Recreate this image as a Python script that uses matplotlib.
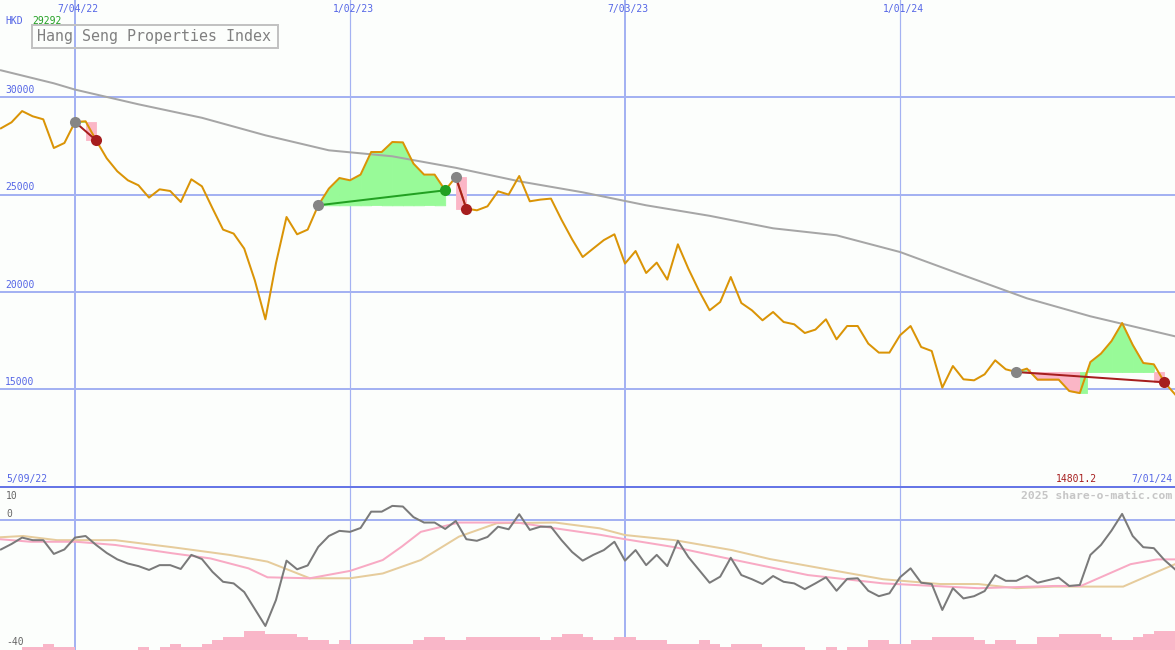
import matplotlib
matplotlib.use('Agg')
import matplotlib.pyplot as plt
import numpy as np

plt.rcParams['font.family'] = 'DejaVu Sans Mono'

# weekly closes, 16 May 2022 .. 1 Jul 2024 (week 0 = 4 Jul 2022)
weeks = list(range(-7, 105))
price = [28407, 28715, 29292, 29024, 28869, 27395, 27652, 28731, 28767, 27790,
         26865, 26197, 25735, 25478, 24846, 25272, 25185, 24620, 25786, 25426,
         24296, 23201, 22996, 22225, 20596, 18591, 21469, 23849, 22960, 23201,
         24450, 25308, 25853, 25735, 26028, 27189, 27189, 27703, 27684, 26593,
         26028, 26028, 25221, 25904, 24280, 24193, 24398, 25169, 25000, 25956,
         24655, 24743, 24794, 23705, 22703, 21793, 22230, 22662, 22960, 21454,
         22101, 20971, 21505, 20632, 22446, 21181, 20056, 19054, 19480, 20765,
         19429, 19054, 18540, 18967, 18453, 18335, 17887, 18062, 18592, 17564,
         18247, 18247, 17343, 16880, 16880, 17769, 18247, 17168, 16962, 15081,
         16191, 15508, 15456, 15765, 16484, 16022, 15883, 16058, 15493, 15493,
         15493, 14907, 14801, 16397, 16828, 17476, 18401, 17280, 16346, 16279,
         15354, 14737]

# long moving average (read at a few weeks)
ma_wk = [-7, -2, 0, 6, 12, 18, 24, 30, 36, 42, 48, 54, 60, 66, 72, 78, 84, 90, 96, 102, 104]
ma_val = [31387, 30719, 30396, 29640, 28947, 28047, 27276, 26968, 26377, 25683, 25118,
          24450, 23910, 23268, 22908, 22050, 20853, 19670, 18746, 17975, 17718]

# trades: entry week, exit week
entries = [0, 23, 36, 89]
exits = [2, 35, 37, 103]

# lower panel
momentum = [-9.2, -7.5, -5.5, -6.3, -6.3, -10.6, -9.2, -5.5, -5.0, -7.8,
            -10.3, -12.3, -13.6, -14.4, -15.6, -14.1, -14.1, -15.3, -10.9, -12.2,
            -16.2, -19.3, -19.8, -22.5, -27.8, -33.1, -25.0, -12.7, -15.4, -14.2,
            -8.4, -5.0, -3.4, -3.7, -2.5, 2.6, 2.6, 4.4, 4.2, 0.9,
            -0.8, -0.8, -2.8, -0.3, -6.0, -6.5, -5.3, -2.1, -2.9, 1.8,
            -3.1, -2.1, -2.1, -6.3, -10.0, -12.7, -10.9, -9.4, -6.8, -12.7,
            -9.4, -14.1, -10.9, -14.4, -6.5, -11.6, -15.6, -19.6, -17.7, -11.8,
            -17.2, -18.5, -20.0, -17.5, -19.3, -19.8, -21.6, -19.8, -17.9, -22.1,
            -18.4, -18.2, -22.1, -23.8, -22.9, -17.9, -15.1, -19.6, -20.0, -28.1,
            -21.3, -24.5, -23.8, -22.2, -17.2, -19.0, -19.0, -17.4, -19.6, -18.8,
            -18.0, -20.6, -20.3, -10.9, -7.8, -3.3, 1.9, -5.0, -8.5, -8.8,
            -12.5, -15.4]

pink_wk = [-7.1, -4.2, 0.1, 3.8, 9.2, 12.8, 16.4, 18.2, 22.2, 26.0, 29.1, 30.9, 32.7,
           36.3, 41.8, 45.4, 49.6, 52.0, 56.7, 62.1, 69.3, 76.4, 85.4, 92.6, 95.1,
           99.8, 102.3, 104]
pink_val = [-6.0, -6.8, -6.8, -7.8, -10.4, -12.0, -15.1, -17.9, -18.2, -15.9, -12.5,
            -8.3, -3.7, -0.8, -0.8, -2.6, -4.6, -6.0, -8.5, -12.3, -17.2, -19.8,
            -21.3, -20.6, -20.6, -13.8, -12.3, -12.3]

tan_wk = [-7.1, -4.9, -1.7, 3.8, 9.2, 14.6, 18.2, 22.2, 26.0, 29.1, 32.7, 36.3, 39.9,
          45.4, 49.6, 52.0, 56.7, 62.1, 65.7, 71.1, 76.4, 81.8, 85.4, 89.0, 92.6,
          99.1, 101.6, 104]
tan_val = [-5.4, -5.0, -6.3, -6.3, -8.5, -10.9, -13.0, -18.2, -18.2, -16.7, -12.5,
           -5.2, -1.0, -0.8, -2.6, -4.7, -6.3, -9.4, -12.2, -15.4, -18.5, -20.0,
           -20.0, -21.3, -20.8, -20.8, -17.2, -13.8]

bars = [0, 0, 1, 1, 2, 1, 1, 0, 0, 0, 0, 0, 0, 1, 0, 1, 2, 1, 1, 2,
        3, 4, 4, 6, 6, 5, 5, 5, 4, 3, 3, 2, 3, 2, 2, 2, 2, 2, 2, 3,
        4, 4, 3, 3, 4, 4, 4, 4, 4, 4, 4, 3, 4, 5, 5, 4, 3, 3, 4, 4,
        3, 3, 3, 2, 2, 2, 3, 2, 1, 2, 2, 2, 1, 1, 1, 1, 0, 0, 1, 0,
        1, 1, 3, 3, 2, 2, 3, 3, 4, 4, 4, 4, 3, 2, 3, 3, 2, 2, 4, 4,
        5, 5, 5, 5, 4, 3, 3, 4, 5, 6, 6, 0]

tick_wk = [0, 26, 52, 78]
tick_lab = ['7/04/22', '1/02/23', '7/03/23', '1/01/24']
tick_w = [2, 1.2, 2, 1.2]
price_grid = [15000, 20000, 25000, 30000]

W, H = 1175, 650
bg = '#fcfefc'
grid = '#a4b2f2'
blue = '#5566e6'
green_fill = '#98fa98'
pink_fill = '#fbb6c6'
px = 72 / 100

fig = plt.figure(figsize=(W / 100, H / 100), dpi=100, facecolor=bg)
ax1 = fig.add_axes([0, 163 / H, 1, 487 / H], facecolor=bg)
ax2 = fig.add_axes([0, 0, 1, 163 / H], facecolor=bg)

for ax in (ax1, ax2):
    ax.set_xlim(-7.09, 104.0)
    ax.set_xticks([])
    ax.set_yticks([])
    for s in ax.spines.values():
        s.set_visible(False)
    for w, lw in zip(tick_wk, tick_w):
        ax.axvline(w, color=grid, lw=lw * px, zorder=0)

ax1.set_ylim(9974, 35000)
ax2.set_ylim(-40.6, 10.3)

for g in price_grid:
    ax1.axhline(g, color=grid, lw=2 * px, zorder=0)

# trade fills
def fill(ax, xs, lo, hi, col):
    ax.fill_between(xs, lo, hi, color=col, ec=col, lw=0.6, zorder=1)

def trade_fill(ax, e, x):
    lvl = price[e + 7]
    profit = price[x + 7] > lvl
    for i in range(e, x):
        p0, p1 = price[i + 7], price[i + 8]
        a, b = p0 - lvl, p1 - lvl
        if i == x - 1 and not profit:
            fill(ax, [i, i + 1], lvl, p1, pink_fill)
        elif a * b >= 0:
            col = green_fill if a + b > 0 else pink_fill
            fill(ax, [i, i + 1], lvl, [p0, p1], col)
        else:
            xc = i + a / (a - b)
            col = green_fill if b > 0 else pink_fill
            fill(ax, [i, xc], lvl, p0, col)
            fill(ax, [xc, i + 1], lvl, [lvl, p1], col)

for e, x in zip(entries, exits):
    trade_fill(ax1, e, x)

ax1.plot(ma_wk, ma_val, color='#a6a6a6', lw=2 * px, zorder=2)
ax1.plot(weeks, price, color='#da9406', lw=2 * px, zorder=3)

for e, x in zip(entries, exits):
    pe, px_ = price[e + 7], price[x + 7]
    col = '#22a022' if px_ > pe else '#a61e1e'
    ax1.plot([e, x], [pe, px_], color=col, lw=2 * px, zorder=4)
    ax1.plot(e, pe, 'o', color='#858585', ms=8, mec='none', zorder=5)
    ax1.plot(x, px_, 'o', color=col, ms=8, mec='none', zorder=5)

# lower panel
ax2.bar(weeks, bars, bottom=-40.6, width=1, align='edge', color='#f9b6c8', lw=0, zorder=1)
ax2.axhline(0, color=grid, lw=2 * px, zorder=0)
ax2.plot(tan_wk, tan_val, color='#e6cc9c', lw=2 * px, zorder=2)
ax2.plot(pink_wk, pink_val, color='#f8aac4', lw=2 * px, zorder=3)
ax2.plot(weeks, momentum, color='#7a7a7a', lw=2 * px, zorder=4)
fig.add_artist(plt.Line2D([0, 1], [163 / H, 163 / H], color='#6676e6', lw=2 * px))

def ptext(x, y, s, **kw):
    fig.text(x / W, 1 - y / H, s, va='center', **kw)

for w, lab in zip(tick_wk, tick_lab):
    ptext(75 + 10.577 * w + 3, 9, lab, color=blue, fontsize=7, ha='center')
ptext(5, 21, 'HKD', color=blue, fontsize=7)
ptext(32, 21, '29292', color='#22a022', fontsize=7)
for g in price_grid:
    ptext(5, 97 + (30000 - g) * 0.01946 - 7, str(g), color=blue, fontsize=7)

fig.add_artist(plt.Rectangle((32 / W, 1 - 48 / H), 246 / W, 23 / H, fill=False,
                             ec='#c2c2c2', lw=2 * px, transform=fig.transFigure))
ptext(37, 36.5, 'Hang Seng Properties Index', color='#808080', fontsize=10.8)

ptext(6, 479, '5/09/22', color=blue, fontsize=7)
ptext(1097, 479, '14801.2', color='#a61e1e', fontsize=7, ha='right')
ptext(1172, 479, '7/01/24', color=blue, fontsize=7, ha='right')
ptext(1172, 496, '2025 share-o-matic.com', color='#c6c6c6', fontsize=8.2,
      ha='right', fontweight='bold')
ptext(6, 496, '10', color='#666666', fontsize=7)
ptext(6, 514, '0', color='#666666', fontsize=7)
ptext(6, 642, '-40', color='#666666', fontsize=7)

fig.savefig('out.png', dpi=100, facecolor=bg)
